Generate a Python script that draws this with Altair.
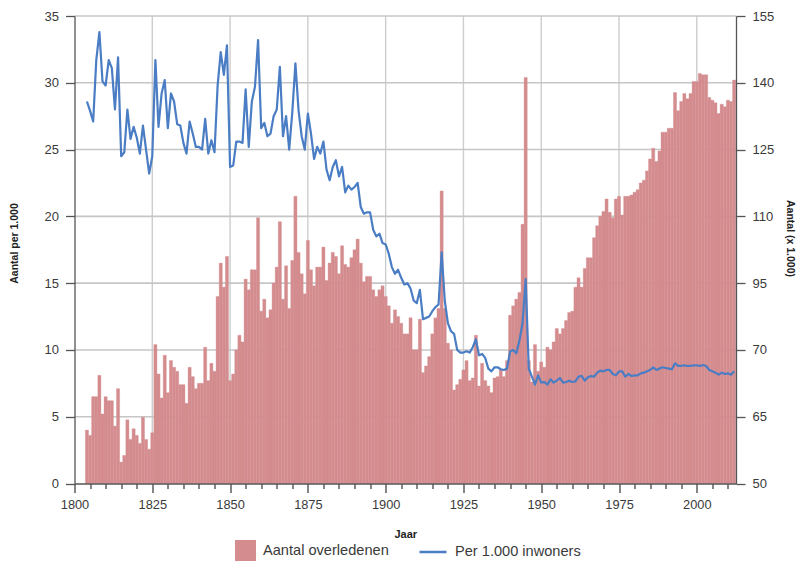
import altair as alt
import pandas as pd

START_YEAR = 1804

# Aantal overledenen (x 1.000), one value per year from 1804
aantal = [
    62.0, 60.8, 69.5, 69.5, 74.3, 65.6,                                      # 1804-1809
    69.5, 68.6, 68.6, 62.9, 71.3, 54.8, 56.3, 64.3, 59.9, 62.3,              # 1810-1819
    60.8, 59.0, 64.9, 59.9, 57.7, 61.4, 81.2, 74.6, 69.2, 78.8,              # 1820-1829
    70.4, 77.6, 76.1, 75.2, 72.2, 72.2, 68.0, 76.1, 74.0, 71.3,              # 1830-1839
    72.5, 72.5, 80.6, 73.1, 77.0, 75.2, 92.0, 99.5, 94.1, 101.0,             # 1840-1849
    73.1, 74.6, 80.0, 83.3, 81.8, 95.9, 93.5, 98.0, 98.0, 109.7,             # 1850-1859
    88.7, 91.4, 87.2, 89.0, 95.0, 98.6, 108.8, 91.4, 98.9, 89.3,             # 1860-1869
    100.1, 114.5, 101.9, 97.1, 92.6, 104.6, 98.0, 94.4, 98.6, 98.6,          # 1870-1879
    103.1, 95.6, 99.5, 101.9, 101.0, 97.1, 103.4, 99.2, 98.6, 100.7,         # 1880-1889
    102.5, 104.9, 99.5, 95.3, 96.5, 96.5, 93.5, 92.0, 93.5, 94.4,            # 1890-1899
    92.0, 89.9, 86.0, 89.0, 87.5, 86.0, 83.6, 83.6, 87.2, 80.0,              # 1900-1909
    80.0, 86.9, 74.9, 76.4, 78.5, 83.6, 87.2, 89.3, 115.7, 89.3,             # 1910-1919
    81.5, 80.0, 71.0, 72.2, 73.4, 75.5, 77.6, 73.1, 73.7, 83.3,              # 1920-1929
    71.9, 77.0, 73.1, 71.9, 70.4, 73.7, 74.0, 75.5, 74.0, 77.6,              # 1930-1939
    87.8, 89.9, 91.4, 92.9, 108.2, 141.2, 77.6, 72.8, 81.2, 75.2,            # 1940-1949
    77.3, 76.1, 80.6, 80.0, 81.8, 84.8, 83.6, 84.8, 86.6, 88.4,              # 1950-1959
    88.7, 94.1, 96.2, 94.1, 98.3, 100.7, 100.7, 105.2, 107.9, 110.0,         # 1960-1969
    111.1, 113.9, 110.9, 109.7, 113.9, 114.5, 110.3, 114.5, 114.5, 114.8,    # 1970-1979
    115.4, 116.0, 117.5, 118.1, 120.2, 122.9, 125.3, 122.3, 124.7, 128.9,    # 1980-1989
    128.9, 129.8, 129.8, 137.8, 133.7, 135.8, 137.6, 136.4, 137.6, 140.3,    # 1990-1999
    140.3, 142.1, 141.8, 141.8, 136.7, 136.1, 135.5, 133.1, 135.2, 134.6,    # 2000-2009
    136.1, 135.8, 140.6,                                                     # 2010-2012
]

# Overledenen per 1.000 inwoners, one value per year from 1804
per_1000 = [
    28.6, 27.9, 27.1, 31.7, 33.8, 30.1,                                      # 1804-1809
    29.8, 31.7, 31.1, 28.0, 31.9, 24.5, 24.8, 28.0, 25.8, 26.7,              # 1810-1819
    25.9, 24.7, 26.8, 25.0, 23.2, 24.5, 31.7, 26.7, 29.2, 30.2,              # 1820-1829
    26.6, 29.2, 28.6, 26.9, 26.8, 25.5, 24.7, 27.1, 26.2, 25.2,              # 1830-1839
    25.2, 25.0, 27.3, 24.7, 25.7, 24.8, 29.8, 32.3, 30.6, 32.8,              # 1840-1849
    23.7, 23.8, 25.6, 25.6, 25.5, 29.5, 25.2, 28.6, 29.7, 33.2,              # 1850-1859
    26.6, 27.0, 26.0, 26.2, 27.5, 28.0, 31.2, 26.0, 27.5, 25.0,              # 1860-1869
    27.8, 31.45, 27.95, 26.0, 25.0, 27.7, 26.2, 24.3, 25.2, 24.7,            # 1870-1879
    25.6, 23.5, 22.7, 23.7, 24.2, 23.0, 23.7, 21.8, 22.3, 22.0,              # 1880-1889
    22.2, 22.5, 20.7, 20.2, 20.3, 20.3, 19.0, 18.5, 18.7, 18.0,              # 1890-1899
    17.9, 17.2, 16.2, 15.7, 16.0, 15.4, 14.9, 15.0, 14.6, 13.7,              # 1900-1909
    13.5, 14.5, 12.3, 12.4, 12.5, 12.9, 13.2, 13.4, 17.3, 13.7,              # 1910-1919
    12.0, 11.4, 11.2, 10.0, 9.8, 9.8, 9.9, 9.8, 10.2, 10.8,                  # 1920-1929
    9.6, 9.7, 9.4, 8.6, 8.4, 8.7, 8.7, 8.55, 8.5, 8.6,                       # 1930-1939
    9.9, 10.0, 9.75, 10.7, 12.0, 15.3, 8.6, 8.0, 7.4, 8.1,                   # 1940-1949
    7.55, 7.6, 7.4, 7.8, 7.55, 7.7, 7.9, 7.55, 7.6, 7.7,                     # 1950-1959
    7.6, 7.65, 8.0, 8.05, 7.7, 7.95, 8.05, 8.0, 8.3, 8.45,                   # 1960-1969
    8.4, 8.5, 8.5, 8.2, 8.1, 8.4, 8.4, 8.0, 8.2, 8.05,                       # 1970-1979
    8.1, 8.1, 8.25, 8.3, 8.4, 8.5, 8.7, 8.5, 8.6, 8.7,                       # 1980-1989
    8.65, 8.6, 8.55, 9.0, 8.8, 8.8, 8.85, 8.8, 8.8, 8.85,                    # 1990-1999
    8.85, 8.8, 8.87, 8.8, 8.5, 8.4, 8.3, 8.15, 8.3, 8.2,                     # 2000-2009
    8.25, 8.15, 8.4,                                                         # 2010-2012
]

jaren = list(range(START_YEAR, START_YEAR + len(aantal)))

x_ticks = list(range(1800, 2011, 5))
x_grid = list(range(1825, 2001, 25))
left_ticks = list(range(0, 36, 5))
right_ticks = [50, 65, 80, 95, 110, 125, 140, 155]

BAR_COLOR = "#D48C8F"
LINE_COLOR = "#4A7DC4"
GRID_COLOR = "#cdcdcd"
FONT = "Liberation Sans"
TXT = "#3a3a3a"

df = pd.DataFrame({"jaar": jaren, "aantal": aantal, "per1000": per_1000})

x_scale = alt.Scale(domain=[1800, 2012.6], nice=False, zero=False)
left_scale = alt.Scale(domain=[0, 35], nice=False)
right_scale = alt.Scale(domain=[50, 155], nice=False, zero=False)

x_axis = alt.Axis(
    orient="bottom", values=x_ticks, format="d",
    labelExpr="datum.value % 25 === 0 ? datum.label : ''",
    grid=False,
    tickSize={"condition": {"test": "datum.value % 25 === 0", "value": 9}, "value": 5},
    tickColor="#444", tickWidth=1.3, domainColor="#555",
    domainWidth=1.4, labelPadding=6, labelFontSize=12.8,
    labelColor=TXT, labelFlush=False, labelOverlap=False,
    title="Jaar", titleFontSize=11, titleFontWeight="bold",
    titleColor="#222", titleY=45, zindex=1,
)

vgrid = (
    alt.Chart(pd.DataFrame({"g": x_grid}))
    .mark_rule(color=GRID_COLOR, strokeWidth=1.4)
    .encode(x=alt.X("g:Q", scale=x_scale, axis=x_axis, title="Jaar"))
)

hgrid = (
    alt.Chart(pd.DataFrame({"h": left_ticks[1:]}))
    .mark_rule(color="#c6c6c6", strokeWidth=1.6)
    .encode(y=alt.Y("h:Q", scale=left_scale, axis=None))
)

bars = (
    alt.Chart(df)
    .transform_calculate(
        x0="datum.jaar - 0.5",
        x1="datum.jaar + 0.5",
        serie="'Aantal overledenen'",
    )
    .mark_rect(stroke=BAR_COLOR, strokeWidth=0.35)
    .encode(
        x=alt.X("x0:Q", scale=x_scale, axis=x_axis, title="Jaar"),
        x2="x1:Q",
        y=alt.Y(
            "aantal:Q",
            scale=right_scale,
            axis=alt.Axis(
                orient="right", values=right_ticks,
                labelExpr="datum.value == 80 ? '70' : datum.label",
                title="Aantal (x 1.000)", grid=False, tickSize=9,
                tickColor="#555", tickWidth=1.3, domainColor="#555",
                domainWidth=1.3, labelPadding=7, labelFontSize=13,
                labelColor=TXT, titleFontSize=10.5, titleFontWeight="bold",
                titleColor="#222", titleBaseline="middle", titleX=53,
                titleY=222, zindex=1,
            ),
        ),
        y2=alt.datum(50),
        color=alt.Color(
            "serie:N",
            scale=alt.Scale(domain=["Aantal overledenen"], range=[BAR_COLOR]),
            legend=alt.Legend(
                orient="none", legendX=160.5, legendY=524, title=None,
                symbolType="square", symbolSize=441, symbolStrokeWidth=0,
                labelFontSize=14.6, labelColor=TXT, labelOffset=7, padding=0,
                labelFont=FONT,
            ),
        ),
    )
)

line = (
    alt.Chart(df)
    .transform_calculate(serie2="'Per 1.000 inwoners'")
    .mark_line(strokeWidth=2.2, strokeJoin="round")
    .encode(
        x=alt.X("jaar:Q", scale=x_scale, axis=x_axis, title="Jaar"),
        y=alt.Y(
            "per1000:Q",
            scale=left_scale,
            axis=alt.Axis(
                orient="left", values=left_ticks, title="Aantal per 1.000",
                grid=False, tickSize=9, tickColor="#555", tickWidth=1.3,
                domainColor="#555", domainWidth=1.3, labelPadding=7,
                labelFontSize=13, labelColor=TXT, titleFontSize=10.5,
                titleFontWeight="bold", titleColor="#222",
                titleBaseline="middle", titleX=-60, titleY=227, zindex=1,
            ),
        ),
        stroke=alt.Stroke(
            "serie2:N",
            scale=alt.Scale(domain=["Per 1.000 inwoners"], range=[LINE_COLOR]),
            legend=alt.Legend(
                orient="none", legendX=343.5, legendY=521, title=None,
                symbolType="stroke", symbolSize=729, symbolStrokeWidth=2.5,
                labelFontSize=14.6, labelColor=TXT, labelOffset=7, padding=0,
                labelFont=FONT,
            ),
        ),
    )
)

chart = (
    alt.layer(vgrid, hgrid, bars, line)
    .resolve_scale(y="independent")
    .properties(
        width=661.5,
        height=467.5,
        padding={"left": 66.5, "top": 8, "right": 60, "bottom": 77.5},
        autosize=alt.AutoSizeParams(type="none"),
    )
    .configure_view(stroke=None)
    .configure_axis(labelFont=FONT, titleFont=FONT)
)

chart.save("out.html", embed_options={"renderer": "svg", "actions": False})
